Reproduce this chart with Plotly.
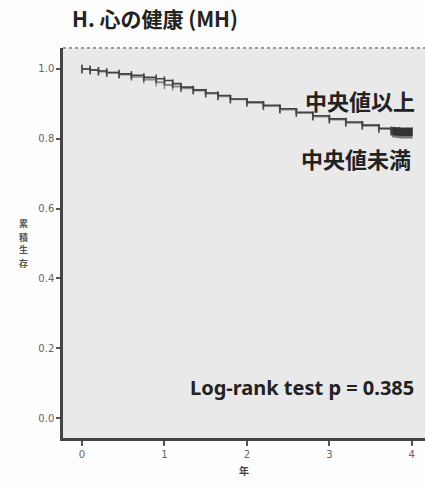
import plotly.graph_objects as go

# Kaplan-Meier style data (years, cumulative survival)
t_above = [0, 0.1, 0.2, 0.3, 0.45, 0.6, 0.75, 0.9, 1.0, 1.1, 1.2, 1.35, 1.5, 1.65, 1.8, 2.0,
           2.2, 2.4, 2.6, 2.8, 3.0, 3.2, 3.4, 3.6, 3.75, 3.85, 3.95, 4.0]
s_above = [1.0, 0.997, 0.994, 0.99, 0.986, 0.982, 0.976, 0.972, 0.967, 0.958, 0.948, 0.94, 0.931,
           0.924, 0.914, 0.905, 0.896, 0.886, 0.876, 0.866, 0.857, 0.848, 0.839, 0.83, 0.823,
           0.821, 0.82, 0.82]
t_below = [0, 0.1, 0.2, 0.3, 0.45, 0.6, 0.75, 0.9, 1.0, 1.1, 1.2, 1.35, 1.5, 1.65, 1.8, 2.0,
           2.2, 2.4, 2.6, 2.8, 3.0, 3.2, 3.4, 3.6, 3.75, 3.85, 3.95, 4.0]
s_below = [1.0, 0.997, 0.993, 0.989, 0.984, 0.978, 0.97, 0.962, 0.954, 0.95, 0.945, 0.938, 0.93,
           0.922, 0.913, 0.903, 0.894, 0.884, 0.874, 0.864, 0.855, 0.846, 0.837, 0.828, 0.82,
           0.817, 0.815, 0.815]
# censored observations clustered near end of follow-up
cens_t = [3.78, 3.81, 3.84, 3.87, 3.9, 3.93, 3.96, 3.99]
cens_above = [0.822, 0.821, 0.821, 0.82, 0.82, 0.82, 0.82, 0.82]
cens_below = [0.818, 0.817, 0.816, 0.815, 0.815, 0.815, 0.815, 0.815]

x_ticks = [0, 1, 2, 3, 4]
y_ticks = [0.0, 0.2, 0.4, 0.6, 0.8, 1.0]
y_tick_text = ["0.0", "0.2", "0.4", "0.6", "0.8", "1.0"]
y_title_chars = ["累", "積", "生", "存"]

fig = go.Figure()
fig.add_trace(go.Scatter(x=t_below, y=s_below, mode="lines+markers", line=dict(shape="hv", color="#8a8a8a", width=2),
                         marker=dict(symbol="line-ns", size=6, line=dict(color="#8a8a8a", width=1.5)), showlegend=False))
fig.add_trace(go.Scatter(x=t_above, y=s_above, mode="lines+markers", line=dict(shape="hv", color="#444", width=1.6),
                         marker=dict(symbol="line-ns", size=6, line=dict(color="#444", width=1.5)), showlegend=False))
fig.add_trace(go.Scatter(x=cens_t, y=cens_below, mode="markers",
                         marker=dict(symbol="line-ns", size=7, line=dict(color="#777", width=3)), showlegend=False))
fig.add_trace(go.Scatter(x=cens_t, y=cens_above, mode="markers",
                         marker=dict(symbol="line-ns", size=6, line=dict(color="#333", width=3)), showlegend=False))

ann_font = dict(family="Noto Sans CJK JP", size=22, color="#222")
fig.add_annotation(xref="paper", yref="paper", x=(417 - 63) / 362, y=(438 - 100) / 390, text="<b>中央値以上</b>",
                   showarrow=False, xanchor="right", yanchor="middle", font=ann_font)
fig.add_annotation(xref="paper", yref="paper", x=(413 - 63) / 362, y=(438 - 158) / 390, text="<b>中央値未満</b>",
                   showarrow=False, xanchor="right", yanchor="middle", font=ann_font)
fig.add_annotation(xref="paper", yref="paper", x=(416 - 63) / 362, y=(438 - 387) / 390, text="<b>Log-rank test p = 0.385</b>",
                   showarrow=False, xanchor="right", yanchor="middle",
                   font=dict(family="Noto Sans", size=20, color="#222"))

fig.update_layout(
    width=425, height=489,
    margin=dict(l=63, r=0, t=48, b=51),
    paper_bgcolor="#fdfdfd",
    plot_bgcolor="#e9e9e9",
    title=dict(text="<b>H. 心の健康 (MH)</b>", x=72 / 425, xanchor="left", y=1 - 20 / 489, yanchor="middle",
               font=dict(family="Noto Sans CJK JP", size=21, color="#222")),
    xaxis=dict(range=[-0.23, 4.16], tickvals=x_ticks, showgrid=False, zeroline=False,
               showline=True, linecolor="#444", linewidth=2.5, ticks="outside", ticklen=5, tickwidth=1.5,
               tickcolor="#555", tickfont=dict(family="DejaVu Sans", size=10, color="#666"),
               title=dict(text="<b>年</b>", font=dict(family="Noto Sans CJK JP", size=10, color="#444"), standoff=10)),
    yaxis=dict(range=[-0.057, 1.06], tickvals=y_ticks, ticktext=y_tick_text, showgrid=False, zeroline=False,
               showline=True, linecolor="#444", linewidth=2.5, ticks="outside", ticklen=4, tickwidth=1.5,
               tickcolor="#555", tickfont=dict(family="DejaVu Sans", size=10, color="#666")),
)
# top border of plot area
fig.add_shape(type="line", xref="paper", yref="paper", x0=0, x1=1, y0=1, y1=1,
              line=dict(color="#999", width=2, dash="dot"))
# vertical y-axis title as stacked characters
for i, ch in enumerate(y_title_chars):
    fig.add_annotation(xref="paper", yref="paper", x=-40 / 362, y=(438 - (224 + 13 * i)) / 390, text="<b>" + ch + "</b>",
                       showarrow=False, xanchor="center", yanchor="middle", borderpad=0,
                       font=dict(family="Noto Sans CJK JP", size=9, color="#555"))

fig.write_html("out.html")
